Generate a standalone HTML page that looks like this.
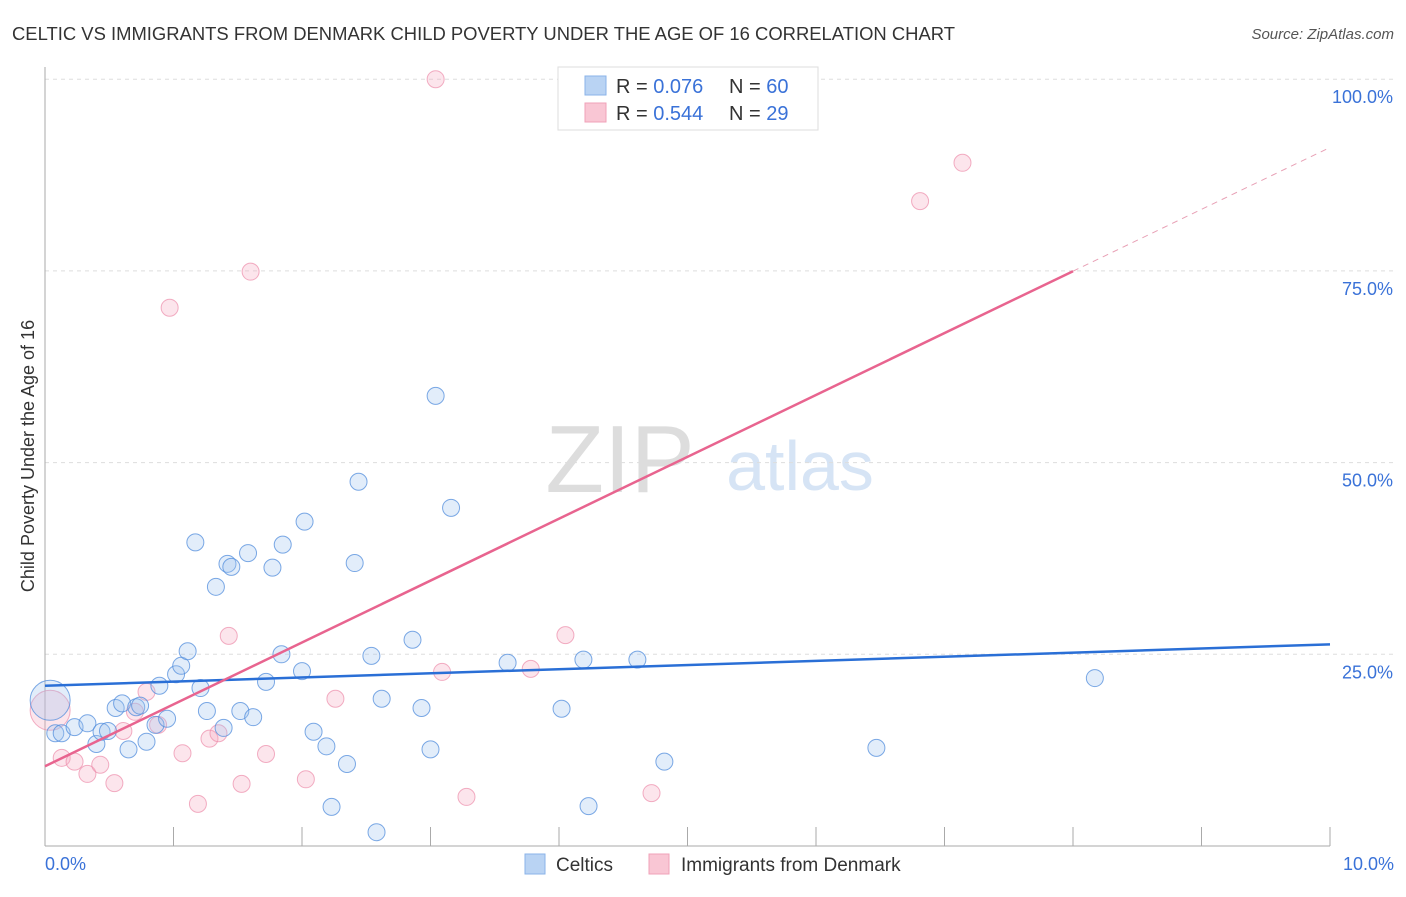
<!DOCTYPE html>
<html><head><meta charset="utf-8"><style>
body{margin:0;background:#fff;font-family:"Liberation Sans",sans-serif;}
svg text{font-family:"Liberation Sans",sans-serif;}
</style></head><body>
<svg id="c" width="1406" height="892">
<text x="12" y="40" font-size="18" fill="#333" textLength="943" lengthAdjust="spacingAndGlyphs">CELTIC VS IMMIGRANTS FROM DENMARK CHILD POVERTY UNDER THE AGE OF 16 CORRELATION CHART</text>
<text x="1394" y="39" font-size="15" fill="#555" font-style="italic" text-anchor="end">Source: ZipAtlas.com</text>
<text x="620" y="492" font-size="96" fill="#ddd" font-family="Liberation Serif" text-anchor="middle">ZIP</text>
<text x="800" y="490" font-size="70" fill="#d6e4f5" text-anchor="middle">atlas</text>
<text transform="translate(34,456) rotate(-90)" font-size="18" fill="#333" text-anchor="middle">Child Poverty Under the Age of 16</text>
<g id="grid"></g><g id="pts"></g><g id="lines"></g>
<g>
<rect x="558" y="67" width="260" height="63" fill="#fff" stroke="#ddd"/>
<rect x="585" y="76" width="21" height="19" fill="#b9d3f3" stroke="#8ab3e8"/>
<rect x="585" y="103" width="21" height="19" fill="#f9c6d4" stroke="#f0a2b8"/>
<text x="616" y="93" font-size="20" fill="#333">R = <tspan fill="#3a72d8">0.076</tspan><tspan x="729">N = </tspan><tspan fill="#3a72d8">60</tspan></text>
<text x="616" y="120" font-size="20" fill="#333">R = <tspan fill="#3a72d8">0.544</tspan><tspan x="729">N = </tspan><tspan fill="#3a72d8"> 29</tspan></text>
</g>
<g>
<rect x="525" y="854" width="20" height="20" fill="#b9d3f3" stroke="#8ab3e8"/>
<text x="556" y="871" font-size="19" fill="#333">Celtics</text>
<rect x="649" y="854" width="20" height="20" fill="#f9c6d4" stroke="#f0a2b8"/>
<text x="681" y="871" font-size="19" fill="#333">Immigrants from Denmark</text>
</g>
</svg>
<script>
const blueX=[0.04,0.08,0.13,0.23,0.33,0.40,0.44,0.49,0.55,0.60,0.65,0.71,0.74,0.79,0.86,0.89,0.95,1.02,1.06,1.11,1.17,1.21,1.26,1.33,1.39,1.42,1.45,1.52,1.58,1.62,1.72,1.77,1.84,1.85,2.00,2.02,2.09,2.19,2.23,2.35,2.41,2.44,2.54,2.58,2.62,2.86,2.93,3.00,3.04,3.16,3.60,4.02,4.19,4.23,4.61,4.82,6.47,8.17];
const blueY=[19.0,14.7,14.7,15.5,16.0,13.3,14.9,15.0,18.0,18.6,12.6,18.1,18.3,13.6,15.8,20.9,16.6,22.4,23.5,25.4,39.6,20.6,17.6,33.8,15.4,36.8,36.4,17.6,38.2,16.8,21.4,36.3,25.0,39.3,22.8,42.3,14.9,13.0,5.1,10.7,36.9,47.5,24.8,1.8,19.2,26.9,18.0,12.6,58.7,44.1,23.9,17.9,24.3,5.2,24.3,11.0,12.8,21.9];
const pinkX=[0.04,0.13,0.23,0.33,0.43,0.54,0.61,0.70,0.79,0.88,0.97,1.07,1.19,1.28,1.35,1.43,1.53,1.60,1.72,2.03,2.26,3.04,3.09,3.28,3.78,4.05,4.72,6.81,7.14];
const pinkY=[17.7,11.5,11.0,9.4,10.6,8.2,15.0,17.5,20.1,15.8,70.2,12.1,5.5,14.0,14.7,27.4,8.1,74.9,12.0,8.7,19.2,100,22.7,6.4,23.1,27.5,6.9,84.1,89.1];
const blueTrend=[20.9,26.3];
const pinkTrend=[10.4,91.1];
const yTicks=[25,50,75,100];
const xTickCount=10;
const sx=v=>45+v*128.5, sy=v=>846-v*7.668;
const NS="http://www.w3.org/2000/svg";
function mk(t,a,p){const e=document.createElementNS(NS,t);for(const k in a)e.setAttribute(k,a[k]);p.appendChild(e);return e;}
const g=document.getElementById('grid');
yTicks.forEach(t=>{
 const l=mk('line',{x1:45,x2:1394,y1:sy(t),y2:sy(t),stroke:'#ddd','stroke-dasharray':'4,4'},g);
 
 
 const tx=mk('text',{x:1393,y:sy(t)+24,'font-size':18,fill:'#3a72d8','text-anchor':'end'},g);tx.textContent=t.toFixed(1)+'%';
 
 
});
mk('line',{x1:45,x2:45,y1:67,y2:846,stroke:'#aaa'},g);
mk('line',{x1:45,x2:1330,y1:846,y2:846,stroke:'#aaa'},g);
for(let i=1;i<=xTickCount;i++){const l=mk('line',{x1:sx(i),x2:sx(i),y1:827,y2:846,stroke:'#aaa'},g);
 
 }
const x0=mk('text',{x:45,y:870,'font-size':18,fill:'#3a72d8'},g);x0.textContent='0.0%';


const x1=mk('text',{x:1394,y:870,'font-size':18,fill:'#3a72d8','text-anchor':'end'},g);x1.textContent='10.0%';


const p=document.getElementById('pts');
pinkX.forEach((x,i)=>{const c=mk('circle',{cx:sx(x),cy:sy(pinkY[i]),r:i==0?20:8.5,fill:'rgba(246,170,192,0.3)',stroke:'rgba(236,140,170,0.7)','stroke-width':1},p);
 
 });
blueX.forEach((x,i)=>{const c=mk('circle',{cx:sx(x),cy:sy(blueY[i]),r:i==0?20:8.5,fill:'rgba(160,195,240,0.3)',stroke:'rgba(80,140,220,0.75)','stroke-width':1},p);
 
 });
const L=document.getElementById('lines');
const bl=mk('line',{x1:sx(0),y1:sy(blueTrend[0]),x2:sx(10),y2:sy(blueTrend[1]),stroke:'#2a6fd6','stroke-width':2.5},L);


const pv=x=>pinkTrend[0]+(pinkTrend[1]-pinkTrend[0])*x/10;
const pl=mk('line',{x1:sx(0),y1:sy(pv(0)),x2:sx(8),y2:sy(pv(8)),stroke:'#e8648f','stroke-width':2.5},L);


const pd=mk('line',{x1:sx(8),y1:sy(pv(8)),x2:sx(10),y2:sy(pv(10)),stroke:'#e8a0b5','stroke-width':1,'stroke-dasharray':'6,5'},L);


</script>
</body></html>
